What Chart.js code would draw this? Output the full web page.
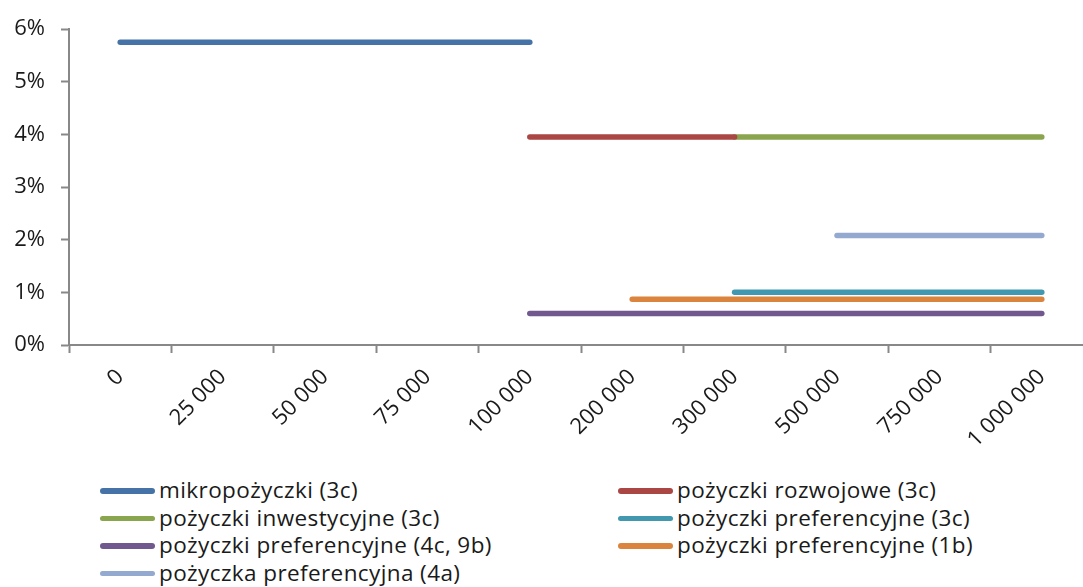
<!DOCTYPE html>
<html lang="pl">
<head>
<meta charset="utf-8">
<script src="https://cdn.jsdelivr.net/npm/chart.js@4.4.1/dist/chart.umd.min.js"></script>
<style>
  html, body { margin: 0; padding: 0; background: #fff; overflow: hidden; }
  body { width: 1083px; height: 587px; position: relative; }
  #wrap { position: absolute; left: 0; top: 0; width: 1100px; height: 470px; }
  #legend { position: absolute; left: 0; top: 476px; width: 1083px; font-family: "Open Sans", Lato, sans-serif; font-size: 22.5px; letter-spacing: 0.4px; color: #1a1a1a; }
  .item { position: absolute; height: 27px; line-height: 27px; white-space: nowrap; }
  .swatch { display: inline-block; width: 55px; height: 5.5px; border-radius: 3px; vertical-align: middle; margin-right: 4px; position: relative; top: -1px; }
</style>
</head>
<body>
<div id="wrap"><canvas id="chart"></canvas></div>
<div id="legend"></div>
<script>
// Loan amount brackets (PLN)
const categories = ['0', '25 000', '50 000', '75 000', '100 000', '200 000', '300 000', '500 000', '750 000', '1 000 000'];

// Interest rate (%) offered in each bracket; null where the product is not available
const mikropozyczki3c   = [5.75, 5.75, 5.75, 5.75, 5.75, null, null, null, null, null];
const rozwojowe3c       = [null, null, null, null, 3.95, 3.95, 3.95, null, null, null];
const inwestycyjne3c    = [null, null, null, null, null, null, 3.95, 3.95, 3.95, 3.95];
const preferencyjne3c   = [null, null, null, null, null, null, 1.0, 1.0, 1.0, 1.0];
const preferencyjne4c9b = [null, null, null, null, 0.6, 0.6, 0.6, 0.6, 0.6, 0.6];
const preferencyjne1b   = [null, null, null, null, null, 0.87, 0.87, 0.87, 0.87, 0.87];
const preferencyjna4a   = [null, null, null, null, null, null, null, 2.08, 2.08, 2.08];

const yTicks = [0, 1, 2, 3, 4, 5, 6];

const series = [
  { label: 'mikropożyczki (3c)',               data: mikropozyczki3c,   color: '#4572A7' },
  { label: 'pożyczki rozwojowe (3c)',          data: rozwojowe3c,       color: '#AA4643' },
  { label: 'pożyczki inwestycyjne (3c)',       data: inwestycyjne3c,    color: '#89A54E' },
  { label: 'pożyczki preferencyjne (3c)',      data: preferencyjne3c,   color: '#4198AF' },
  { label: 'pożyczki preferencyjne (4c, 9b)',  data: preferencyjne4c9b, color: '#71588F' },
  { label: 'pożyczki preferencyjne (1b)',      data: preferencyjne1b,   color: '#DB843D' },
  { label: 'pożyczka preferencyjna (4a)',      data: preferencyjna4a,   color: '#93A9CF' }
];

const axisColor = '#888888';
const fontFamily = '"Open Sans", Lato, sans-serif';
const canvasHeight = 470;
const plotBottom = 345;

const chart = new Chart(document.getElementById('chart'), {
  type: 'line',
  data: {
    labels: categories,
    datasets: series.map(s => ({
      label: s.label,
      data: s.data,
      borderColor: s.color,
      backgroundColor: s.color,
      borderWidth: 5.5,
      borderCapStyle: 'round',
      borderJoinStyle: 'round',
      pointRadius: 0,
      pointHoverRadius: 0,
      spanGaps: false,
      fill: false,
      tension: 0
    }))
  },
  options: {
    responsive: true,
    maintainAspectRatio: false,
    animation: false,
    events: [],
    layout: { padding: { top: 21, right: 7, left: 0, bottom: 0 } },
    plugins: {
      legend: { display: false },
      tooltip: { enabled: false }
    },
    scales: {
      x: {
        type: 'category',
        offset: true,
        afterFit: scale => { scale.height = canvasHeight - plotBottom; },
        grid: {
          offset: true,
          drawOnChartArea: false,
          drawTicks: true,
          tickLength: 8,
          tickWidth: 2,
          tickColor: axisColor
        },
        border: { display: true, color: axisColor, width: 2 },
        ticks: {
          color: '#1a1a1a',
          font: { family: fontFamily, size: 22 },
          maxRotation: 45,
          minRotation: 45,
          autoSkip: false,
          padding: 11
        }
      },
      y: {
        min: 0,
        max: 6,
        afterFit: scale => { scale.width = 69; },
        afterBuildTicks: scale => { scale.ticks = yTicks.map(v => ({ value: v })); },
        grid: {
          drawOnChartArea: false,
          drawTicks: true,
          tickLength: 8,
          tickWidth: 2,
          tickColor: axisColor
        },
        border: { display: true, color: axisColor, width: 2 },
        ticks: {
          color: '#1a1a1a',
          font: { family: fontFamily, size: 22 },
          padding: 16,
          callback: v => v + '%'
        }
      }
    }
  }
});

// Two-column legend, row by row in dataset order
const legend = document.getElementById('legend');
const colX = [100, 618];
const rowH = 27.5;
series.forEach((s, i) => {
  const item = document.createElement('div');
  item.className = 'item';
  item.style.left = colX[i % 2] + 'px';
  item.style.top = (Math.floor(i / 2) * rowH) + 'px';
  const sw = document.createElement('span');
  sw.className = 'swatch';
  sw.style.background = s.color;
  item.appendChild(sw);
  item.appendChild(document.createTextNode(s.label));
  legend.appendChild(item);
});
</script>
</body>
</html>
